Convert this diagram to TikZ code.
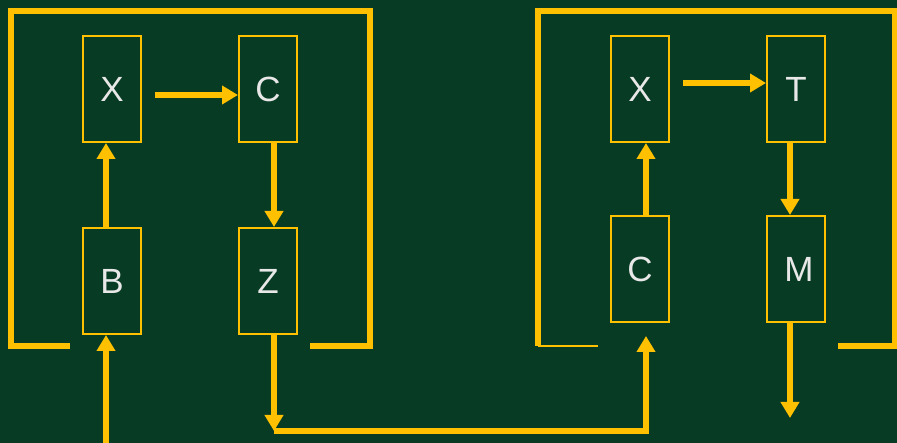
\documentclass[tikz,border=0pt]{standalone}
\usepackage{fontspec}
\setmainfont{Liberation Sans}
\usetikzlibrary{arrows.meta}

\definecolor{board}{HTML}{073B24}
\definecolor{gold}{HTML}{FFC000}
\definecolor{chalk}{HTML}{E8E8E8}

\tikzset{
  blk/.style={draw=gold, line width=2pt, minimum width=58pt, minimum height=106pt,
    inner sep=0pt, text=chalk, font=\fontsize{35}{35}\selectfont},
  arr/.style={draw=gold, line width=5.5pt, -{Triangle[length=16pt,width=18pt]}},
  frame/.style={draw=gold, line width=5.5pt}
}

\begin{document}
\begin{tikzpicture}[x=1pt,y=-1pt]
  % 背景
  \fill[board] (0,0) rectangle (897,443);
  \useasboundingbox (0,0) rectangle (897,443);
  % 左边的框
  \draw[frame] (70,346) -- (11,346) -- (11,11) -- (370,11) -- (370,346) -- (310,346);
  % 右边的框
  \draw[frame] (538,346) -- (538,11) -- (895,11) -- (895,346) -- (838,346);
  \draw[draw=gold, line width=2pt] (538,346) -- (598,346);
  % 左边的方块
  \node[blk] (x1) at (112,89) {X};
  \node[blk] (c1) at (268,89) {C};
  \node[blk] (b)  at (112,281) {B};
  \node[blk] (z)  at (268,281) {Z};
  % 右边的方块
  \node[blk] (x2) at (640,89) {X};
  \node[blk] (t)  at (796,89) {T};
  \node[blk] (c2) at (640,269) {C};
  \node[blk] (m)  at (796,269) {\hspace{6pt}M};
  % 左边的箭头
  \draw[arr] ([shift={(13,6)}]x1.east) -- ([yshift=-6pt]c1.west);
  \draw[arr] ([xshift=6pt]c1.south) -- ([xshift=6pt]z.north);
  \draw[arr] ([xshift=-6pt]b.north) -- ([xshift=-6pt]x1.south);
  \coordinate (bin) at (106,443);
  \draw[arr] (bin) -- ([xshift=-6pt]b.south);
  % 连接两边
  \coordinate (zout) at (274,431);
  \coordinate (cin) at (646,431);
  \draw[arr] ([xshift=6pt]z.south) -- (zout);
  \draw[arr] (zout) -- (cin) -- ([shift={(6,13)}]c2.south);
  % 右边的箭头
  \draw[arr] ([shift={(13,-6)}]x2.east) -- ([yshift=6pt]t.west);
  \draw[arr] ([xshift=-6pt]t.south) -- ([xshift=-6pt]m.north);
  \draw[arr] ([xshift=6pt]c2.north) -- ([xshift=6pt]x2.south);
  \coordinate (mout) at (790,418);
  \draw[arr] ([xshift=-6pt]m.south) -- (mout);
\end{tikzpicture}
\end{document}
